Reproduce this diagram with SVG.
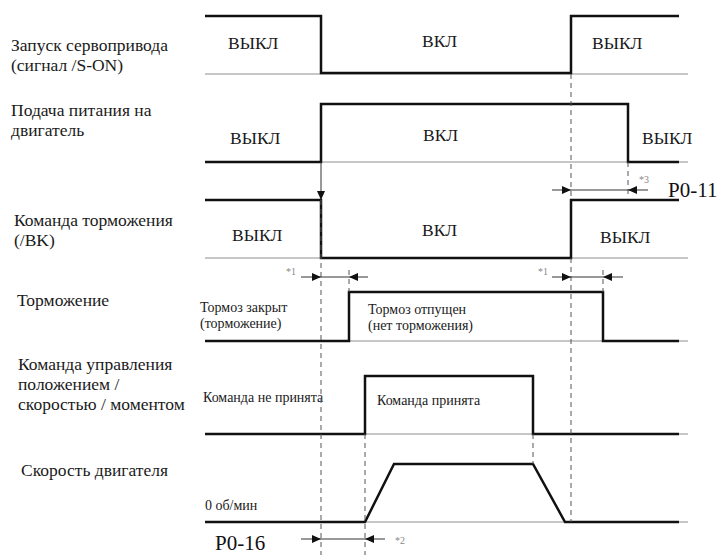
<svg xmlns="http://www.w3.org/2000/svg" width="725" height="555" viewBox="0 0 725 555">
<defs>
<style>
.sig{fill:none;stroke:#111;stroke-width:2.5;stroke-linejoin:miter}
.base{stroke:#b4b4b4;stroke-width:1.5}
.dash{stroke:#555;stroke-width:1;stroke-dasharray:5,4;fill:none}
.dim{stroke:#333;stroke-width:1;fill:none}
.f{font-family:"Liberation Serif","Times New Roman",serif}
.lbl{font-size:17.5px;fill:#1a1a1a}
.st{font-size:17.5px;fill:#1a1a1a}
.sm{font-size:14px;fill:#1a1a1a}
.note{font-size:10px;fill:#888}
.par{font-size:21px;fill:#111}
</style>
<marker id="ah" markerWidth="9" markerHeight="8" refX="9" refY="4" orient="auto" markerUnits="userSpaceOnUse">
<path d="M0,0 L9,4 L0,8 z" fill="#111"/>
</marker>
</defs>
<rect width="725" height="555" fill="#fff"/>

<g id="row-servo-on" class="f">
<text class="lbl" x="11" y="51">Запуск сервопривода</text>
<text class="lbl" x="11" y="71">(сигнал /S-ON)</text>
<line class="base" x1="205" y1="74" x2="688" y2="74"/>
<polyline class="sig" points="205,16 321,16 321,73 571,73 571,16 679,16"/>
<text class="st" x="228" y="49">ВЫКЛ</text>
<text class="st" x="422" y="47">ВКЛ</text>
<text class="st" x="592" y="49">ВЫКЛ</text>
</g>

<g id="row-motor-power" class="f">
<text class="lbl" x="11" y="116">Подача питания на</text>
<text class="lbl" x="11" y="136">двигатель</text>
<line class="base" x1="205" y1="162" x2="688" y2="162"/>
<polyline class="sig" points="205,162 321,162 321,104 628,104 628,162 679,162"/>
<text class="st" x="230" y="144">ВЫКЛ</text>
<text class="st" x="423" y="141">ВКЛ</text>
<text class="st" x="642" y="144">ВЫКЛ</text>
</g>

<g id="row-brake-cmd" class="f">
<text class="lbl" x="14" y="226">Команда торможения</text>
<text class="lbl" x="14" y="246">(/BK)</text>
<line class="base" x1="205" y1="258" x2="688" y2="258"/>
<polyline class="sig" points="205,200 321,200 321,258 571,258 571,200 679,200"/>
<text class="st" x="232" y="241">ВЫКЛ</text>
<text class="st" x="422" y="236">ВКЛ</text>
<text class="st" x="600" y="243">ВЫКЛ</text>
</g>

<g id="row-brake" class="f">
<text class="lbl" x="17" y="306">Торможение</text>
<line class="base" x1="205" y1="341" x2="688" y2="341"/>
<polyline class="sig" points="205,341 349,341 349,292 603,292 603,341 679,341"/>
<text class="sm" x="200" y="312">Тормоз закрыт</text>
<text class="sm" x="200" y="328">(торможение)</text>
<text class="sm" x="368" y="314">Тормоз отпущен</text>
<text class="sm" x="368" y="330">(нет торможения)</text>
</g>

<g id="row-command" class="f">
<text class="lbl" x="18" y="370">Команда управления</text>
<text class="lbl" x="18" y="390">положением /</text>
<text class="lbl" x="18" y="410">скоростью / моментом</text>
<line class="base" x1="205" y1="434" x2="688" y2="434"/>
<polyline class="sig" points="205,434 365,434 365,376 533,376 533,434 679,434"/>
<text class="sm" x="203" y="402">Команда не принята</text>
<text class="sm" x="377" y="405">Команда принята</text>
</g>

<g id="row-speed" class="f">
<text class="lbl" x="21" y="476">Скорость двигателя</text>
<line class="base" x1="205" y1="522" x2="688" y2="522"/>
<polyline class="sig" points="205,522 365,522 394,464 533,464 565,522 679,522"/>
<text class="sm" x="205" y="510">0 об/мин</text>
</g>

<g id="connectors" class="f">
<line class="dash" x1="321" y1="200" x2="321" y2="555"/>
<line class="dash" x1="571" y1="74" x2="571" y2="200"/>
<line class="dash" x1="571" y1="258" x2="571" y2="522"/>
<line class="dash" x1="628" y1="162" x2="628" y2="196"/>
<line class="dash" x1="349" y1="270" x2="349" y2="292"/>
<line class="dash" x1="603" y1="270" x2="603" y2="292"/>
<line class="dash" x1="365" y1="434" x2="365" y2="555"/>
<line class="dash" x1="533" y1="434" x2="533" y2="464"/>
<line class="dim" x1="321" y1="162" x2="321" y2="200" marker-end="url(#ah)"/>
<line class="dim" x1="552" y1="190" x2="571" y2="190" marker-end="url(#ah)"/>
<line class="dim" x1="571" y1="190" x2="628" y2="190"/>
<line class="dim" x1="648" y1="190" x2="628" y2="190" marker-end="url(#ah)"/>
<line class="dim" x1="301" y1="277" x2="321" y2="277" marker-end="url(#ah)"/>
<line class="dim" x1="321" y1="277" x2="349" y2="277"/>
<line class="dim" x1="368" y1="277" x2="349" y2="277" marker-end="url(#ah)"/>
<line class="dim" x1="552" y1="277" x2="571" y2="277" marker-end="url(#ah)"/>
<line class="dim" x1="571" y1="277" x2="603" y2="277"/>
<line class="dim" x1="623" y1="277" x2="603" y2="277" marker-end="url(#ah)"/>
<line class="dim" x1="301" y1="539" x2="321" y2="539" marker-end="url(#ah)"/>
<line class="dim" x1="321" y1="539" x2="365" y2="539"/>
<line class="dim" x1="385" y1="539" x2="365" y2="539" marker-end="url(#ah)"/>
<text class="note" x="286" y="275">*1</text>
<text class="note" x="538" y="275">*1</text>
<text class="note" x="639" y="183">*3</text>
<text class="note" x="395" y="544">*2</text>
<text class="par" x="668" y="197">P0-11</text>
<text class="par" x="215" y="550">P0-16</text>
</g>
</svg>
